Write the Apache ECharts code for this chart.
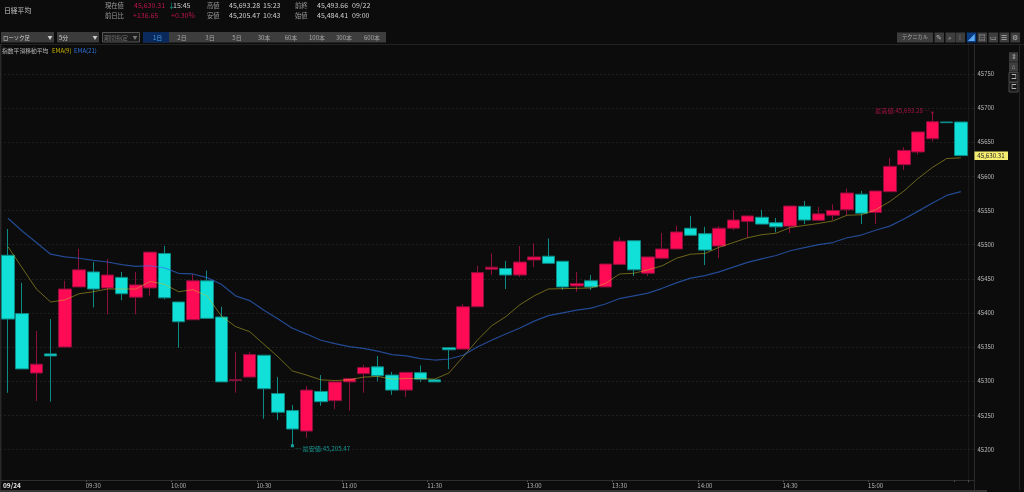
<!DOCTYPE html>
<html><head><meta charset="utf-8">
<style>html,body{margin:0;padding:0;background:#0c0c0c}#c{width:1024px;height:492px}</style>
<script src="https://cdn.jsdelivr.net/npm/echarts@6/dist/echarts.min.js"></script>
</head><body><div id="c"></div>
<script>
const categories = ["09:00","09:05","09:10","09:15","09:20","09:25","09:30","09:35","09:40","09:45","09:50","09:55","10:00","10:05","10:10","10:15","10:20","10:25","10:30","10:35","10:40","10:45","10:50","10:55","11:00","11:05","11:10","11:15","11:20","11:25","11:30","12:30","12:35","12:40","12:45","12:50","12:55","13:00","13:05","13:10","13:15","13:20","13:25","13:30","13:35","13:40","13:45","13:50","13:55","14:00","14:05","14:10","14:15","14:20","14:25","14:30","14:35","14:40","14:45","14:50","14:55","15:00","15:05","15:10","15:15","15:20","15:25","15:30"];
const opens = [45484.41,45399,45312,45340,45350,45438,45460,45436.5,45452,45423,45436.5,45487,45416,45390,45447,45394,45301,45306,45338,45282,45257,45227,45285,45271.5,45299,45311,45321,45309,45287,45312.5,45302,45349,45347,45409,45464,45465,45455.5,45477.5,45483,45475.6,45439.4,45447,45438,45471,45505.7,45458,45480,45493.6,45524,45516,45498,45524,45534,45540,45532,45527,45556,45535.6,45543,45551,45573.7,45547,45577.5,45617,45635.6,45655,45679.5,45679.5];
const closes = [45391,45318,45325,45337,45435,45463,45435,45455.5,45428,45441,45489,45422,45387,45447,45392,45299,45302,45339,45289,45254.5,45230,45287,45270,45299,45304,45320,45308,45287,45313,45303,45299,45346,45409,45459,45467,45455.5,45474.5,45482,45472.6,45438,45443,45438,45471.6,45505,45463,45482,45493.6,45518.5,45513.6,45492,45524,45536,45542,45530,45526,45556.5,45536,45545,45550,45575.6,45546,45578.5,45614.6,45638,45665,45680,45678.5,45630.31];
const lows = [45283,45318,45271,45270,45350,45438,45408,45398,45418.5,45398,45425,45420,45349,45390,45392,45299,45283,45306,45245,45243,45205.47,45217,45264,45259,45257,45283,45300,45280,45277,45299,45299,45317.5,45347,45409,45455.5,45435,45452.6,45467,45472.6,45433.6,45431,45433.6,45438,45471,45454,45454,45478,45493.6,45513.6,45470,45480,45521,45510,45530,45518,45517,45530,45535.6,45536,45543,45530,45530,45577.5,45609,45631.6,45651,45678.5,45630.31];
const highs = [45523,45444,45373.5,45391,45447,45494,45474.5,45479,45460,45460,45489,45498,45416,45457,45462,45409,45343,45343,45338,45306,45265,45293,45309,45299,45304,45324,45337,45313.5,45313,45323,45302,45349,45413,45469,45487,45476,45498,45502,45509,45475.6,45460,45455.5,45471.6,45511,45505.7,45482,45517,45527.7,45542,45526,45527,45550,45542,45551,45539,45556.5,45564,45555,45559,45582,45578.5,45578.5,45627,45642.5,45665,45693.28,45679.5,45679.5];
const ema9 = [45497,45466,45435,45416,45419,45428,45431,45435,45435,45435,45446,45442,45431,45434,45425,45395.5,45380,45372.5,45354,45335.5,45315,45309,45302,45301,45302,45306,45307,45303,45304,45304,45303,45312,45335.5,45360,45381,45394.5,45412,45425,45435,45435.5,45436,45436.5,45443,45457,45458,45463,45469,45480,45486,45487,45496,45503,45510,45514.5,45516.6,45525,45528,45531,45534.6,45543,45543.6,45551,45563,45578.5,45597,45613,45626,45627];
const ema21 = [45538.5,45520,45503,45486,45482,45480,45477,45474.5,45470.6,45468,45469,45466,45458,45457,45451.6,45442,45425,45418,45404,45391,45377.5,45369,45360,45355,45350.5,45348,45344,45339,45337,45333,45331,45332.5,45338,45350,45360,45369,45378,45388,45396,45400,45404,45407,45413,45421,45425,45429,45436,45444,45451,45454.5,45460,45467,45474,45479,45484,45491,45495.5,45500,45503,45510,45514,45521,45527,45537.5,45549,45561,45572,45577.5];
const tickLabels = ["09:30","10:00","10:30","11:00","11:30","13:00","13:30","14:00","14:30","15:00"];
const unlabelledTicks = ["15:30"];
const dateLabel = "09/24";
const lastPrice = 45630.31;
const highPrice = "45,693.28", lowPrice = "45,205.47";

const FONT = '"Noto Sans CJK JP","Noto Sans",sans-serif';
const yMin = 45150, yMax = 45800;
const candleData = categories.map((c,i)=>[opens[i],closes[i],lows[i],highs[i]]);
const isTick = (i,v)=> tickLabels.includes(v) || unlabelledTicks.includes(v);
const gridV = {top:39.7,bottom:8.35};

const chart = echarts.init(document.getElementById('c'),null,{renderer:'canvas'});
chart.setOption({
  animation:false,
  backgroundColor:'#0c0c0c',
  grid:[
    {left:0,right:50,...gridV},
    {left:0.5,width:967.5,...gridV}
  ],
  xAxis:[
    {gridIndex:0,type:'category',data:categories,show:false},
    {gridIndex:1,type:'category',data:categories,offset:-3.65,
     axisLine:{show:false},
     axisTick:{show:true,length:2,interval:isTick,lineStyle:{color:'#555'}},
     splitLine:{show:true,interval:(i)=>i===31,lineStyle:{color:'#262626',type:'dotted',width:1}},
     axisLabel:{interval:(i,v)=>i===0||tickLabels.includes(v),hideOverlap:false,margin:2.5,fontSize:6,fontFamily:FONT,color:'#b4b4b4',
       formatter:(v,i)=> i===0 ? '{d|'+dateLabel+'}' : v,
       rich:{d:{color:'#e8e8e8',fontWeight:'bold',fontSize:6.5,fontFamily:FONT,padding:[0,0,0,8]}}}}
  ],
  yAxis:[
    {gridIndex:0,type:'value',position:'right',min:yMin,max:yMax,interval:50,
     axisLine:{show:false},axisTick:{show:false},
     splitLine:{show:true,showMinLine:false,showMaxLine:false,lineStyle:{color:'#1f1f1f',type:[2,2],width:1}},
     axisLabel:{show:true,showMinLabel:false,showMaxLabel:false,inside:false,margin:3.5,fontSize:6,fontFamily:FONT,color:'#bdbdbd',formatter:(v)=>String(v)}},
    {gridIndex:1,type:'value',min:yMin,max:yMax,show:false,splitLine:{show:false}}
  ],
  series:[
    {type:'candlestick',xAxisIndex:1,yAxisIndex:1,data:candleData,barWidth:13,
     itemStyle:{color:'#ff0a55',color0:'#10e0d8',borderColor:'#8c0f3e',borderColor0:'#0d8a86',borderWidth:1},
     markPoint:{animation:false,data:[
       {coord:[65,45693.28],symbol:'rect',symbolSize:2,itemStyle:{color:'#a0124a'},
        label:{show:true,position:'left',distance:1,offset:[0,-2],formatter:'最高値:'+highPrice+' ─',fontSize:6.2,fontFamily:FONT,color:'#a8124a'}},
       {coord:[20,45205.47],symbol:'rect',symbolSize:3,itemStyle:{color:'#13a09a'},
        label:{show:true,position:'right',distance:1,offset:[0,3],formatter:'─ 最安値:'+lowPrice,fontSize:6.2,fontFamily:FONT,color:'#159a95'}}
     ]}},
    {type:'line',xAxisIndex:1,yAxisIndex:1,data:ema9,symbol:'none',z:3,lineStyle:{color:'rgba(205,190,40,0.5)',width:1}},
    {type:'line',xAxisIndex:1,yAxisIndex:1,data:ema21,symbol:'none',z:3,lineStyle:{color:'rgba(50,115,235,0.6)',width:1.2}}
  ]
});

const g = [];
const rect=(x,y,w,h,fill,stroke)=>g.push({type:'rect',silent:true,z:1,shape:{x,y,width:w,height:h},style:{fill,stroke:stroke||null,lineWidth:stroke?1:0}});
const txt=(x,y,t,fill,size,align)=>g.push({type:'text',silent:true,z:2,x,y,style:{text:t,fill,font:(size||7)+'px '+FONT,textAlign:align||'left',textVerticalAlign:'middle'}});
// frame lines
rect(0,44,1024,0.8,'#2b2b2b');
rect(974,44,0.8,446,'#333333');
rect(1019,44,0.8,446,'#2a2a2a');
rect(0,480,974,0.8,'#3a3a3a');
rect(0,44,0.8,446,'#333333');
rect(0,490,987,2,'#363636');
// quote header
const lab='#9a9a9a', val='#d0d0d0', red='#c0144c';
txt(4,10,'日経平均','#c4c4c4',6.8);
[[105,5.5,'現在値',lab,6.3],[134,5.5,'45,630.31',red],[168,5.5,'↓','#12a8a2'],[173,5.5,'15:45',val],
 [207,5.5,'高値',lab,6.3],[229,5.5,'45,693.28',val],[263,5.5,'15:23',val],
 [295,5.5,'前終',lab,6.3],[317,5.5,'45,493.66',val],[352,5.5,'09/22',val],
 [105,15.5,'前日比',lab,6.3],[133,15.5,'+136.65',red],[171,15.5,'+0.30%',red],
 [207,15.5,'安値',lab,6.3],[229,15.5,'45,205.47',val],[263,15.5,'10:43',val],
 [295,15.5,'始値',lab,6.3],[317,15.5,'45,484.41',val],[352,15.5,'09:00',val]
].forEach(r=>txt(r[0],r[1],r[2],r[3],r[4]||7));
// left toolbar
rect(1,32,53,10.5,'#3b3b3b'); txt(3,37.5,'ローソク足','#d0d0d0',5.4); txt(50,37.5,'▼','#cccccc',5,'center');
rect(57,32,42,10.5,'#3b3b3b'); txt(59,37.5,'5分','#d0d0d0',6); txt(95,37.5,'▼','#cccccc',5,'center');
rect(102.5,32.5,37,9.5,'#1c1c1c','#555555'); txt(104,37.5,'期間指定','#6e6e6e',6); txt(135,37.5,'▼','#777777',5,'center');
rect(143,32,243,10.5,'#3d3d3d');
rect(143,32,26,10.5,'#0a2a5e');
[[157.7,'1日','#4a9be0'],[182,'2日'],[210,'3日'],[237,'5日'],[264,'30本'],[291,'60本'],[317,'100本'],[344,'300本'],[372,'600本']]
 .forEach(r=>txt(r[0],37.5,r[1],r[2]||'#a8a8a8',6,'center'));
// legend
txt(2,51,'指数平滑移動平均','#b8b8b8',5.8);
txt(52,51,'EMA(9)','#c8b400',6);
txt(74,51,'EMA(21)','#2f74dc',6);
// right toolbar
rect(897,32.5,36,10,'#3d3d3d'); txt(915,37.5,'テクニカル','#a8a8a8',5.2,'center');
[[939,'✎'],[950,'⌕'],[960,'⫶'],[971.3,'◢',true],[982,'▤'],[993,'▭'],[1004,'☰'],[1015,'⚙']].forEach(r=>{
  rect(r[0]-4.5,32.5,9.5,10,r[2]?'#0a3a80':'#3d3d3d');
  txt(r[0],37.5,r[1],r[2]?'#5aa8f0':'#b4b4b4',7,'center');
});
[[56.7,'⇕'],[66.7,'⌂'],[77,'⊐'],[87,'⊏']].forEach((r,i)=>{
  rect(1009,r[0]-4.5,9,9.5,i<2?'#3d3d3d':'#1a1a1a',i<2?null:'#4a4a4a');
  txt(1013.5,r[0],r[1],'#b4b4b4',6.5,'center');
});
// last price tag, placed by the value axis
const tagY = chart.convertToPixel({yAxisIndex:0},lastPrice);
rect(974.5,tagY-4.2,33.5,8.5,'#f4ec70');
txt(991,tagY,lastPrice.toLocaleString('en-US',{minimumFractionDigits:2}),'#222222',6.2,'center');
chart.setOption({graphic:g});
</script></body></html>
